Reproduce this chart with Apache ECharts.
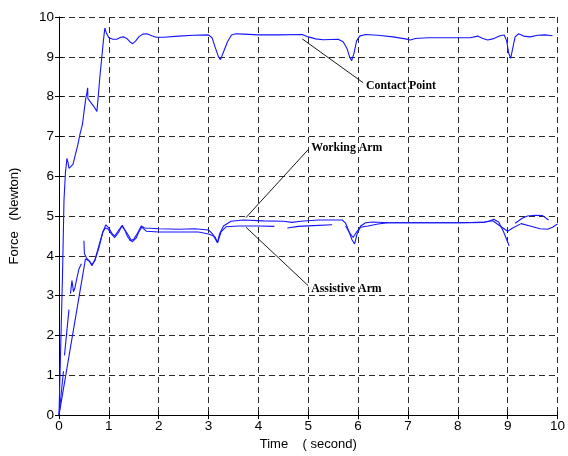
<!DOCTYPE html>
<html><head><meta charset="utf-8">
<script src="https://cdn.jsdelivr.net/npm/echarts@6/dist/echarts.min.js"></script>
<style>html,body{margin:0;padding:0;background:#fff}#c{width:568px;height:456px}</style>
</head><body><div id="c"></div>
<script>
// ---- data (time in seconds, force in Newton); null = gap in the recorded line ----
const contactTime  = [0,0.03,0.07,0.1,0.13,0.16,0.18,0.2,0.23,0.28,0.33,0.38,0.42,0.47,0.51,0.54,0.56,0.575,0.58,0.64,0.7,0.76,0.78,0.82,0.86,0.89,0.92,0.95,1.0,1.08,1.16,1.24,1.3,1.36,1.42,1.48,1.54,1.6,1.68,1.76,1.86,1.95,2.1,2.4,2.7,3.0,3.07,3.13,3.2,3.24,3.3,3.38,3.46,3.55,3.7,4.0,4.4,4.88,5.0,5.15,5.3,5.6,5.7,5.78,5.83,5.87,5.92,5.97,6.03,6.15,6.4,6.7,6.95,7.05,7.15,7.4,8.0,8.25,8.4,8.5,8.6,8.7,8.85,8.93,8.98,9.02,9.06,9.1,9.15,9.22,9.32,9.45,9.6,9.75,9.9];
const contactForce = [0,1.5,3.5,5.4,6.1,6.45,6.35,6.2,6.15,6.3,6.55,6.8,7.05,7.3,7.7,7.98,8.1,8.22,7.95,7.85,7.75,7.63,7.9,8.5,9.0,9.4,9.72,9.6,9.48,9.44,9.44,9.49,9.5,9.46,9.38,9.33,9.4,9.5,9.57,9.58,9.53,9.49,9.49,9.52,9.54,9.55,9.48,9.25,9.0,8.93,9.12,9.38,9.55,9.58,9.57,9.55,9.55,9.56,9.5,9.45,9.43,9.44,9.38,9.2,9.0,8.9,9.1,9.4,9.52,9.56,9.54,9.5,9.45,9.42,9.46,9.48,9.48,9.48,9.52,9.46,9.42,9.45,9.53,9.55,9.4,9.1,8.96,9.2,9.5,9.58,9.52,9.5,9.54,9.55,9.53];

const workingTime  = [0,0.53,0.6,0.66,0.72,0.8,0.88,0.94,1.0,1.07,1.12,1.2,1.27,1.32,1.37,1.43,1.5,1.58,1.65,1.72,2.0,2.4,2.72,3.0,3.08,3.14,3.18,3.22,3.3,3.45,3.7,4.1,4.5,4.67,4.85,5.2,5.5,5.68,5.75,5.82,5.88,5.93,5.98,6.05,6.15,6.3,6.6,7.0,7.5,8.0,8.5,8.65,8.72,8.82,8.92,9.0,9.03,9.08,9.15,9.3,9.4,9.55,9.7,9.82];
const workingForce = [0,3.92,3.88,3.78,3.88,4.2,4.6,4.78,4.7,4.55,4.5,4.65,4.77,4.65,4.5,4.38,4.42,4.58,4.75,4.7,4.68,4.67,4.68,4.65,4.55,4.45,4.33,4.55,4.75,4.87,4.9,4.88,4.87,4.84,4.87,4.9,4.9,4.9,4.82,4.6,4.4,4.3,4.55,4.75,4.83,4.85,4.83,4.83,4.83,4.83,4.84,4.88,4.92,4.85,4.6,4.35,4.25,null,4.82,4.95,5.0,5.02,5.01,4.9];

const assistTime  = [0,0.09,0.1,0.11,0.2,0.21,0.23,0.26,0.29,0.32,0.36,0.4,0.45,0.47,0.5,0.51,0.55,0.62,0.66,0.72,0.8,0.88,0.93,0.98,1.05,1.12,1.2,1.26,1.3,1.35,1.4,1.47,1.55,1.6,1.66,1.75,2.0,2.4,2.8,3.0,3.1,3.18,3.25,3.35,3.6,4.0,4.32,4.45,4.58,4.8,5.1,5.48,5.6,5.75,5.82,5.9,5.97,6.05,6.2,6.4,6.6,7.0,7.5,8.0,8.5,8.7,8.85,9.0,9.1,9.27,9.45,9.65,9.8,9.9,10.0];
const assistForce = [0,1.1,null,1.5,2.65,null,3.05,3.38,3.1,3.2,3.45,3.67,3.8,null,4.38,4.05,3.95,3.85,3.75,3.9,4.25,4.6,4.7,4.68,4.55,4.46,4.6,4.75,4.7,4.6,4.5,4.35,4.45,4.6,4.72,4.62,4.6,4.6,4.6,4.55,4.5,4.33,4.6,4.73,4.75,4.75,4.74,null,4.7,4.74,4.76,4.78,null,4.75,4.6,4.46,4.6,4.72,4.75,4.8,4.83,4.83,4.83,4.83,4.84,4.88,4.75,4.62,4.7,4.81,4.75,4.68,4.67,4.72,4.8];

// leader lines: [start, end] in (time, force)
const contactLeaderTime = [4.88, 6.1];  const contactLeaderForce = [9.45, 8.35];
const workingLeaderTime = [3.75, 5.0];  const workingLeaderForce = [4.96, 6.67];
const assistLeaderTime  = [3.75, 5.0];  const assistLeaderForce  = [4.72, 3.25];
const labelNames = ['Contact Point', 'Working Arm', 'Assistive Arm'];

const xTicks = [0,1,2,3,4,5,6,7,8,9,10];
const yTicks = [0,1,2,3,4,5,6,7,8,9,10];

function pairs(t, f) { return t.map((x, i) => [x, f[i] == null ? null : f[i]]); }
const BLUE = '#1515ff';
function curve(name, t, f) {
  return { name, type: 'line', data: pairs(t, f), showSymbol: false, symbol: 'none',
    connectNulls: false, smooth: false, animation: false, silent: true,
    lineStyle: { color: BLUE, width: 1.1 }, z: 3 };
}
function leader(name, t, f, label, dy) {
  const d = pairs(t, f);
  d[1] = { value: d[1], label: { show: true, formatter: label, position: 'right', distance: 3, offset: [0, dy],
    fontFamily: 'Liberation Serif', fontWeight: 'bold', fontSize: 11.8, color: '#000' } };
  return { name, type: 'line', data: d, showSymbol: true, symbol: 'circle', symbolSize: 0.01,
    itemStyle: { color: 'rgba(0,0,0,0)', borderWidth: 0 },
    label: { show: false }, animation: false, silent: true,
    lineStyle: { color: '#000', width: 0.9 }, z: 4 };
}

const dash = { type: [6, 4], color: '#2a2a2a', width: 1 };
const chart = echarts.init(document.getElementById('c'), null, { renderer: 'canvas' });
chart.setOption({
  animation: false,
  backgroundColor: '#fff',
  grid: { left: 55, right: 9, top: 17, bottom: 39, containLabel: false },
  xAxis: [{
    type: 'value', min: xTicks[0], max: xTicks[xTicks.length - 1], interval: 1,
    name: 'Time    ( second)', nameLocation: 'middle', nameGap: 22,
    nameTextStyle: { fontFamily: 'Liberation Sans', fontSize: 13, color: '#000' },
    axisLine: { show: true, onZero: false, lineStyle: { color: '#000', width: 1 } },
    axisTick: { show: true, inside: true, length: 4, lineStyle: { color: '#000' } },
    axisLabel: { fontFamily: 'Liberation Sans', fontSize: 13.5, color: '#000', margin: 4 },
    splitLine: { show: true, lineStyle: dash }
  }, {
    type: 'value', position: 'top', min: 0, max: 10, interval: 1,
    axisLine: { show: false }, axisLabel: { show: false }, splitLine: { show: false },
    axisTick: { show: true, inside: true, length: 4, lineStyle: { color: '#000' } }
  }],
  yAxis: [{
    type: 'value', min: yTicks[0], max: yTicks[yTicks.length - 1], interval: 1,
    name: 'Force   (Newton)', nameLocation: 'middle', nameGap: 38, nameRotate: 90,
    nameTextStyle: { fontFamily: 'Liberation Sans', fontSize: 13, color: '#000' },
    axisLine: { show: true, onZero: false, lineStyle: { color: '#000', width: 1 } },
    axisTick: { show: true, inside: true, length: 4, lineStyle: { color: '#000' } },
    axisLabel: { fontFamily: 'Liberation Sans', fontSize: 13.5, color: '#000', margin: 5 },
    splitLine: { show: true, lineStyle: dash }
  }, {
    type: 'value', position: 'right', min: 0, max: 10, interval: 1,
    axisLine: { show: false }, axisLabel: { show: false }, splitLine: { show: false },
    axisTick: { show: true, inside: true, length: 4, lineStyle: { color: '#000' } }
  }],
  series: [
    curve('Contact Point', contactTime, contactForce),
    curve('Working Arm', workingTime, workingForce),
    curve('Assistive Arm', assistTime, assistForce),
    leader('contactLeader', contactLeaderTime, contactLeaderForce, labelNames[0], 3),
    leader('workingLeader', workingLeaderTime, workingLeaderForce, labelNames[1], -2),
    leader('assistLeader', assistLeaderTime, assistLeaderForce, labelNames[2], 3)
  ]
});
</script></body></html>
